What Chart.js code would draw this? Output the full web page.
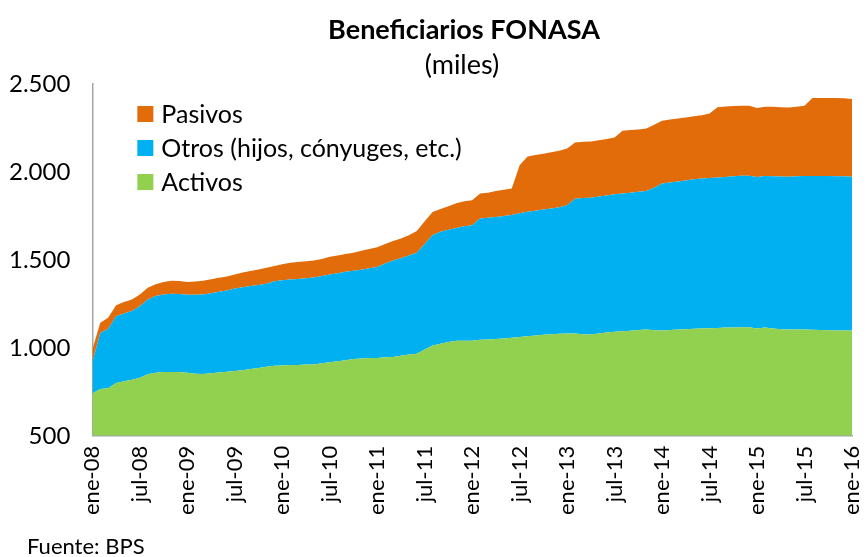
<!DOCTYPE html>
<html>
<head>
<meta charset="utf-8">
<script src="https://cdn.jsdelivr.net/npm/chart.js@4.4.0/dist/chart.umd.min.js"></script>
<style>
  body { margin: 0; background: #fff; }
  #wrap { width: 867px; height: 557px; }
</style>
</head>
<body>
<div id="wrap"><canvas id="fonasaChart" width="867" height="557"></canvas></div>
<script>
// meses ene-08 .. ene-16
var meses = ['ene', 'feb', 'mar', 'abr', 'may', 'jun', 'jul', 'ago', 'sep', 'oct', 'nov', 'dic'];
var labels = [];
for (var a = 8; a <= 16; a++) {
    for (var m = 0; m < 12; m++) {
        if (a == 16 && m > 0) break;
        labels.push(meses[m] + '-' + (a < 10 ? '0' + a : a));
    }
}

var activos = [740, 766, 770, 800, 810, 818, 830, 850, 858, 862, 863, 862,
    858, 853, 852, 856, 860, 864, 868, 872, 880, 886, 892, 898,
    900, 902, 903, 905, 906, 912, 918, 924, 930, 936, 939, 942,
    943, 946, 948, 955, 962, 966, 990, 1014, 1024, 1033, 1041, 1041,
    1040, 1046, 1047, 1050, 1053, 1057, 1062, 1066, 1070, 1074, 1078, 1080,
    1081, 1081, 1078, 1076, 1082, 1087, 1091, 1094, 1097, 1101, 1104, 1100,
    1098, 1101, 1104, 1106, 1108, 1110, 1111, 1113, 1115, 1116, 1117, 1117,
    1110, 1115, 1110, 1106, 1104, 1104, 1104, 1103, 1101, 1100, 1099, 1098,
    1098];

var otros = [180, 319, 338, 380, 385, 392, 407, 425, 437, 441, 444, 444,
    444, 449, 451, 454, 459, 462, 470, 473, 472, 471, 473, 480,
    485, 487, 489, 491, 494, 496, 499, 500, 502, 502, 505, 510,
    517, 534, 548, 555, 563, 575, 600, 628, 636, 639, 641, 651,
    657, 689, 693, 694, 697, 698, 703, 708, 710, 712, 714, 720,
    729, 767, 774, 778, 778, 779, 782, 783, 785, 787, 788, 810,
    837, 839, 841, 846, 850, 853, 855, 855, 857, 859, 861, 862,
    862, 862, 866, 868, 869, 871, 873, 874, 876, 877, 877, 877,
    875];

var pasivos = [70, 57, 63, 62, 65, 65, 66, 67, 67, 72, 75, 74,
    73, 75, 79, 80, 79, 79, 79, 83, 85, 89, 90, 87,
    90, 95, 96, 96, 96, 97, 101, 101, 101, 103, 108, 110,
    112, 110, 111, 112, 115, 123, 130, 131, 130, 133, 140, 142,
    142, 142, 142, 148, 149, 151, 273, 314, 316, 318, 320, 320,
    324, 320, 320, 319, 320, 322, 323, 357, 356, 354, 355, 358,
    356, 358, 359, 358, 358, 359, 366, 400, 400, 400, 399, 398,
    392, 394, 394, 394, 393, 395, 400, 443, 444, 443, 444, 444,
    442];

var yTicks = [500, 1000, 1500, 2000, 2500];

var FONT = 'Lato, "Open Sans", sans-serif';

// titulos, fuente y leyenda dibujados a mano
var textos = {
    id: 'textos',
    afterDraw: function (chart) {
        var ctx = chart.ctx;
        var area = chart.chartArea;
        ctx.save();
        ctx.fillStyle = '#000';
        ctx.textAlign = 'center';
        ctx.textBaseline = 'middle';
        ctx.font = 'bold 27px ' + FONT;
        ctx.fillText('Beneficiarios FONASA', 464, 30);
        ctx.font = '27px ' + FONT;
        ctx.fillText('(miles)', 462, 65);

        ctx.textAlign = 'left';
        ctx.font = '22px ' + FONT;
        ctx.fillText('Fuente: BPS', 27, 547);

        // leyenda (orden inverso)
        var ds = chart.data.datasets;
        ctx.font = '25px ' + FONT;
        for (var i = 0; i < ds.length; i++) {
            var d = ds[ds.length - 1 - i];
            var y = area.top + 30 + i * 34;
            ctx.fillStyle = d.backgroundColor;
            ctx.fillRect(area.left + 45, y - 8, 16, 16);
            ctx.fillStyle = '#000';
            ctx.fillText(d.label, area.left + 69, y + 1);
        }
        ctx.restore();
    }
};

var ctx = document.getElementById('fonasaChart').getContext('2d');
var myChart = new Chart(ctx, {
    type: 'line',
    data: {
        labels: labels,
        datasets: [{
            label: 'Activos',
            data: activos,
            backgroundColor: '#92D050',
            fill: 'origin'
        }, {
            label: 'Otros (hijos, cónyuges, etc.)',
            data: otros,
            backgroundColor: '#00B0F0',
            fill: '-1'
        }, {
            label: 'Pasivos',
            data: pasivos,
            backgroundColor: '#E36C0A',
            fill: '-1'
        }]
    },
    options: {
        responsive: false,
        animation: false,
        elements: {
            line: { borderWidth: 0, tension: 0 },
            point: { radius: 0 }
        },
        layout: {
            padding: { left: -13, right: 15, top: 84, bottom: 32 }
        },
        plugins: {
            legend: { display: false },
            title: { display: false },
            tooltip: { enabled: false }
        },
        scales: {
            x: {
                offset: false,
                afterFit: function (axis) {
                    // el ultimo rotulo no necesita margen extra
                    axis.paddingRight = 0;
                },
                grid: { display: false, drawTicks: false },
                border: { display: true, color: '#A6A6A6', width: 1.5 },
                ticks: {
                    autoSkip: false,
                    maxRotation: 90,
                    minRotation: 90,
                    padding: 10,
                    color: '#000',
                    font: { family: FONT, size: 22 },
                    callback: function (val, i) {
                        return i % 6 == 0 ? labels[i] : '';
                    }
                }
            },
            y: {
                stacked: true,
                min: 500,
                max: 2500,
                afterBuildTicks: function (axis) {
                    axis.ticks = yTicks.map(function (v) { return { value: v }; });
                },
                grid: { display: false, drawTicks: false },
                border: { display: true, color: '#A6A6A6', width: 1.5 },
                ticks: {
                    padding: 22,
                    color: '#000',
                    font: { family: FONT, size: 24 },
                    callback: function (v) {
                        return v.toLocaleString('de-DE');
                    }
                }
            }
        }
    },
    plugins: [textos]
});
</script>
</body>
</html>
